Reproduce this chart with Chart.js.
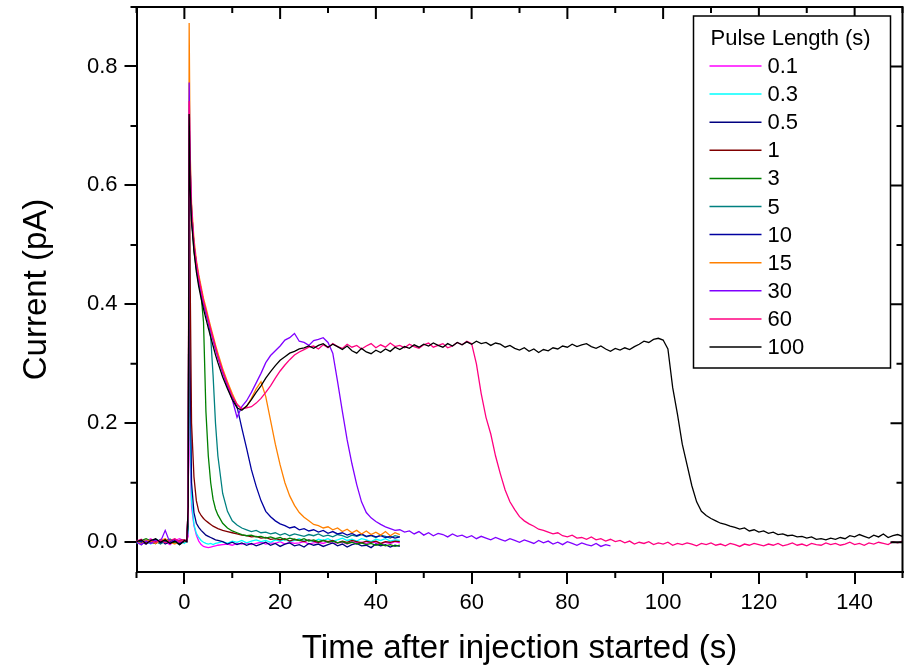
<!DOCTYPE html>
<html>
<head>
<meta charset="utf-8">
<script src="https://cdn.jsdelivr.net/npm/chart.js@4.4.1/dist/chart.umd.min.js"></script>
<style>
  html, body { margin: 0; padding: 0; background: #fff; }
</style>
</head>
<body>
<canvas id="chart" width="910" height="666"></canvas>
<script>
// sample times (s), shared by every trace; shorter traces just stop earlier
const time = [
  -10, -9, -8, -7, -6, -5, -4, -3, -2, -1, 0,
  0.5, 0.8, 1, 1.2, 1.5, 2, 2.5, 3, 3.5, 4, 4.5, 5, 5.5, 6, 6.5, 7,
  8, 9, 10, 11, 12, 13, 14, 15, 16, 17, 18, 19, 20, 21, 22, 23, 24, 25, 26, 27,
  28, 29, 30, 31, 32, 33, 34, 35, 36, 37, 38, 39, 40, 41, 42, 43, 44, 45,
  46, 47, 48, 49, 50, 51, 52, 53, 54, 55, 56, 57, 58, 59, 60, 61, 62, 63, 64, 65,
  66, 67, 68, 69, 70, 71, 72, 73, 74, 75, 76, 77, 78, 79, 80, 81, 82, 83, 84, 85,
  86, 87, 88, 89,
  90, 91, 92, 93, 94, 95, 96, 97, 98, 99, 100, 101, 102, 103, 104, 105, 106, 107, 108, 109, 110,
  111, 112, 113, 114, 115, 116, 117, 118, 119, 120, 121, 122, 123, 124, 125, 126, 127, 128, 129, 130,
  131, 132, 133, 134, 135, 136, 137, 138, 139, 140, 141, 142, 143, 144, 145, 146, 147, 148, 149, 150
];

const pulseLabels = ["0.1", "0.3", "0.5", "1", "3", "5", "10", "15", "30", "60", "100"];
const pulseColors = ["#FF00FF", "#00FFFF", "#000080", "#800000", "#008000", "#008080",
                     "#0000A0", "#FF8000", "#8000FF", "#FF0080", "#000000"];

// current (pA) for each pulse length
const p01 = [0.004, -0.003, 0.002, 0.006, -0.002, 0.005, 0.001, -0.004, 0.003, 0.006, 0.002,
  0.003, 0.01, 0.5, 0.14, 0.06, 0.028, 0.012, 0.002, -0.004, -0.007, -0.008, -0.009, -0.008, -0.007, -0.006, -0.005,
  -0.004, -0.003, -0.005, -0.002, -0.003, -0.001, -0.004, -0.002, 0.0, -0.003, -0.001, -0.002, 0.001, -0.003, 0.0,
  -0.002, -0.001, 0.001, -0.003, -0.001, 0.0, -0.002, 0.001, -0.002, -0.001, 0.0, -0.003, 0.001, -0.001, 0.0,
  -0.002, 0.001, -0.001, -0.003, 0.0, -0.002, 0.001, -0.001];
const p03 = [-0.002, 0.004, 0.001, -0.003, 0.005, 0.002, -0.001, 0.004, 0.0, 0.003, -0.002,
  0.002, 0.02, 0.56, 0.2, 0.07, 0.03, 0.015, 0.008, 0.003, 0.0, -0.002, -0.003, -0.002, -0.004, -0.002, -0.001,
  0.001, -0.002, 0.002, 0.0, 0.003, -0.001, 0.002, 0.004, 0.001, 0.003, 0.0, 0.004, 0.002, 0.005, 0.001,
  0.003, 0.006, 0.002, 0.004, 0.001, 0.005, 0.003, 0.006, 0.002, 0.004, 0.007, 0.003, 0.005, 0.002, 0.006,
  0.004, 0.001, 0.005, 0.003, 0.006, 0.002, 0.004, 0.003];
const p05 = [0.002, -0.004, 0.003, 0.0, -0.002, 0.004, -0.003, 0.001, 0.005, -0.001, 0.002,
  0.001, 0.03, 0.62, 0.3, 0.1, 0.05, 0.032, 0.025, 0.02, 0.016, 0.012, 0.01, 0.008, 0.006, 0.004, 0.003,
  0.001, -0.003, 0.0, -0.004, -0.001, -0.005, -0.002, -0.006, -0.003, 0.0, -0.005, -0.002, -0.007, -0.003, -0.001,
  -0.006, -0.004, -0.008, -0.002, -0.005, -0.003, -0.007, -0.004, -0.001, -0.006, -0.003, -0.008, -0.004, -0.002, -0.006,
  -0.005, -0.009, -0.003, -0.006, -0.004, -0.008, -0.005, -0.007];
const p1 = [0.003, 0.0, -0.003, 0.004, 0.001, -0.002, 0.005, 0.002, -0.001, 0.003, 0.004,
  0.002, 0.04, 0.71, 0.45, 0.2, 0.11, 0.07, 0.052, 0.045, 0.04, 0.036, 0.033, 0.03, 0.027, 0.025, 0.023,
  0.02, 0.018, 0.016, 0.014, 0.012, 0.011, 0.009, 0.01, 0.007, 0.008, 0.005, 0.006, 0.004, 0.006, 0.002,
  0.005, 0.003, 0.001, 0.004, 0.002, 0.0, 0.003, 0.001, 0.003, -0.001, 0.002, 0.0, 0.003, 0.001, -0.001,
  0.002, 0.0, 0.002, -0.002, 0.001, 0.0, 0.002, 0.001];
const p3 = [-0.001, 0.003, 0.006, 0.002, -0.002, 0.004, 0.001, 0.005, -0.001, 0.002, 0.003,
  0.002, 0.04, 0.68, 0.62, 0.55, 0.49, 0.46, 0.435, 0.415, 0.37, 0.22, 0.145, 0.1, 0.072, 0.056, 0.046,
  0.032, 0.024, 0.019, 0.016, 0.013, 0.011, 0.012, 0.009, 0.01, 0.007, 0.009, 0.006, 0.008, 0.004, 0.007,
  0.005, 0.003, 0.006, 0.002, 0.004, 0.001, 0.003, 0.0, 0.002, -0.001, 0.001, -0.002, 0.0, -0.003, -0.001,
  -0.004, -0.002, -0.005, -0.003, -0.006, -0.004, -0.007, -0.005];
const p5 = [0.001, -0.002, 0.004, 0.0, 0.003, -0.003, 0.002, 0.005, 0.001, -0.004, 0.002,
  0.001, 0.04, 0.7, 0.63, 0.56, 0.5, 0.465, 0.44, 0.42, 0.4, 0.385, 0.37, 0.345, 0.28, 0.2, 0.145,
  0.082, 0.052, 0.036, 0.029, 0.024, 0.021, 0.018, 0.02, 0.016, 0.017, 0.014, 0.016, 0.012, 0.015, 0.011,
  0.014, 0.012, 0.01, 0.013, 0.011, 0.014, 0.01, 0.012, 0.009, 0.013, 0.011, 0.008, 0.012, 0.01, 0.013,
  0.009, 0.011, 0.008, 0.012, 0.01, 0.007, 0.011, 0.009];
const p10 = [0.003, 0.001, -0.003, 0.002, 0.005, -0.001, 0.003, 0.0, 0.004, -0.002, 0.001,
  0.002, 0.05, 0.66, 0.6, 0.54, 0.5, 0.47, 0.445, 0.425, 0.405, 0.39, 0.373, 0.358, 0.343, 0.327, 0.313,
  0.288, 0.266, 0.246, 0.228, 0.192, 0.158, 0.122, 0.094, 0.07, 0.052, 0.043, 0.036, 0.031, 0.028, 0.024,
  0.026, 0.021, 0.023, 0.019, 0.021, 0.017, 0.02, 0.015, 0.018, 0.014, 0.016, 0.012, 0.015, 0.011, 0.014,
  0.01, 0.012, 0.009, 0.011, 0.008, 0.01, 0.007, 0.009];
const p15 = [0.002, -0.003, 0.004, 0.001, -0.002, 0.003, 0.006, 0.0, -0.003, 0.002, 0.001,
  0.002, 0.06, 0.873, 0.66, 0.57, 0.51, 0.475, 0.45, 0.43, 0.41, 0.395, 0.378, 0.362, 0.347, 0.332, 0.318,
  0.292, 0.27, 0.25, 0.232, 0.224, 0.228, 0.242, 0.258, 0.27, 0.245, 0.205, 0.165, 0.13, 0.1, 0.078,
  0.062, 0.05, 0.042, 0.036, 0.03, 0.028, 0.024, 0.026, 0.021, 0.024, 0.018, 0.022, 0.016, 0.02, 0.014,
  0.019, 0.013, 0.017, 0.012, 0.018, 0.011, 0.016, 0.013];
const p30 = [0.0, -0.004, 0.002, -0.002, 0.003, 0.001, 0.02, -0.001, 0.004, 0.0, 0.003,
  0.002, 0.06, 0.773, 0.64, 0.56, 0.5, 0.468, 0.44, 0.42, 0.4, 0.386, 0.37, 0.355, 0.34, 0.325, 0.31,
  0.285, 0.262, 0.24, 0.21, 0.228, 0.238, 0.252, 0.268, 0.284, 0.302, 0.314, 0.322, 0.33, 0.34, 0.344,
  0.351, 0.338, 0.336, 0.331, 0.339, 0.341, 0.344, 0.336, 0.318, 0.27, 0.22, 0.172, 0.132, 0.097, 0.068,
  0.05, 0.041, 0.035, 0.03, 0.026, 0.023, 0.02, 0.021,
  0.017, 0.019, 0.014, 0.018, 0.012, 0.016, 0.011, 0.015, 0.013, 0.009, 0.014, 0.01, 0.012, 0.008, 0.011,
  0.006, 0.01, 0.007, 0.004, 0.008, 0.005, 0.002, 0.006, 0.003, 0.0, 0.004, 0.001, -0.002, 0.003, -0.001,
  0.002, -0.003, 0.0, -0.004, 0.001, -0.002, -0.005, -0.001, -0.004, -0.006, -0.002, -0.007, -0.004, -0.006];
const p60 = [0.002, 0.005, -0.002, 0.003, 0.0, 0.004, -0.001, 0.003, 0.006, 0.001, 0.004,
  0.003, 0.06, 0.742, 0.63, 0.56, 0.5, 0.47, 0.445, 0.425, 0.405, 0.39, 0.374, 0.358, 0.343, 0.328, 0.313,
  0.288, 0.266, 0.246, 0.232, 0.224, 0.226, 0.228, 0.234, 0.242, 0.252, 0.263, 0.276, 0.288, 0.298, 0.307,
  0.315, 0.32, 0.324, 0.328, 0.33, 0.325, 0.332, 0.327, 0.334, 0.329, 0.326, 0.333, 0.328, 0.331, 0.325,
  0.33, 0.334, 0.327, 0.332, 0.328, 0.335, 0.329, 0.331,
  0.327, 0.333, 0.329, 0.326, 0.332, 0.335, 0.328, 0.331, 0.334, 0.327, 0.33, 0.336, 0.332, 0.338, 0.334,
  0.3, 0.25, 0.21, 0.182, 0.145, 0.115, 0.088, 0.068, 0.055, 0.043, 0.036, 0.031, 0.027, 0.022, 0.02,
  0.017, 0.014, 0.016, 0.011, 0.009, 0.012, 0.007, 0.008, 0.005, 0.009, 0.004, 0.006, 0.002, 0.005, 0.001,
  0.003, -0.001, 0.002, -0.003, 0.0, -0.002, 0.001, -0.004, -0.001, -0.003, 0.0, -0.005, -0.002, -0.004, -0.001,
  -0.003, -0.006, -0.002, -0.004, -0.001, -0.005, -0.003, -0.006, -0.002, -0.004, -0.007, -0.003, -0.005, -0.002, -0.004,
  -0.006, -0.003, -0.005, -0.002, -0.006, -0.004, -0.001, -0.005, -0.003, -0.006, -0.002, -0.004, -0.005, -0.001, -0.004,
  -0.002, -0.005, -0.003, 0.0, -0.004, -0.002, -0.005, -0.001, -0.003, 0.0, -0.002, -0.004, 0.001, -0.001, 0.002];
const p100 = [0.001, 0.004, -0.002, 0.003, 0.006, 0.0, 0.004, -0.002, 0.002, -0.004, 0.003,
  0.001, 0.06, 0.72, 0.6, 0.54, 0.49, 0.455, 0.43, 0.41, 0.392, 0.376, 0.36, 0.345, 0.33, 0.315, 0.302,
  0.278, 0.258, 0.24, 0.226, 0.222, 0.229, 0.24, 0.252, 0.263, 0.276, 0.287, 0.297, 0.306, 0.312, 0.318,
  0.321, 0.325, 0.327, 0.33, 0.326, 0.331, 0.334, 0.328, 0.333, 0.329, 0.324, 0.33, 0.322, 0.318, 0.326,
  0.32, 0.317, 0.323, 0.319, 0.325, 0.321, 0.328, 0.324,
  0.329, 0.326, 0.332, 0.328, 0.333, 0.33, 0.335, 0.331, 0.328, 0.334, 0.33, 0.336, 0.332, 0.337, 0.333,
  0.338, 0.334, 0.336, 0.331, 0.335, 0.333, 0.328, 0.331, 0.326, 0.323, 0.327, 0.321, 0.325, 0.319, 0.324,
  0.322, 0.327, 0.325, 0.33, 0.328, 0.333, 0.329, 0.332, 0.334, 0.329, 0.326, 0.33, 0.325, 0.321, 0.326,
  0.323, 0.327, 0.324, 0.329, 0.333, 0.338, 0.336, 0.341, 0.343, 0.34, 0.325, 0.26, 0.215, 0.165, 0.13,
  0.095, 0.068, 0.052, 0.045, 0.04, 0.036, 0.032, 0.03, 0.027, 0.025, 0.022, 0.024, 0.019, 0.021, 0.017,
  0.019, 0.015, 0.017, 0.013, 0.014, 0.011, 0.012, 0.009, 0.01, 0.007, 0.009, 0.005, 0.006, 0.004, 0.007,
  0.005, 0.008, 0.006, 0.011, 0.009, 0.013, 0.01, 0.007, 0.012, 0.009, 0.014, 0.008, 0.011, 0.013, 0.01];

const traces = [p01, p03, p05, p1, p3, p5, p10, p15, p30, p60, p100];

// axis ticks
const xMajor = [0, 20, 40, 60, 80, 100, 120, 140];
const xMinor = [-10, 10, 30, 50, 70, 90, 110, 130, 150];
const yMajor = [0, 0.2, 0.4, 0.6, 0.8];
const yMinor = [0.1, 0.3, 0.5, 0.7, 0.9];

const FONT = "'Liberation Sans', Arial, sans-serif";

// Origin-style frame: mirrored axes, inward ticks on top/right, minor ticks, boxed legend
const frameAndLegend = {
  id: "frameAndLegend",
  afterDraw(chart) {
    const { ctx, chartArea: a, scales: { x, y } } = chart;
    ctx.save();
    ctx.strokeStyle = "#000";
    ctx.lineWidth = 2;
    ctx.beginPath();
    ctx.moveTo(a.left - 1, a.top);
    ctx.lineTo(a.right, a.top);
    ctx.lineTo(a.right, a.bottom + 1);
    ctx.stroke();

    ctx.beginPath();
    xMajor.forEach(v => {
      const px = x.getPixelForValue(v);
      ctx.moveTo(px, a.top); ctx.lineTo(px, a.top + 12);
    });
    xMinor.forEach(v => {
      const px = x.getPixelForValue(v);
      ctx.moveTo(px, a.top); ctx.lineTo(px, a.top + 6);
      ctx.moveTo(px, a.bottom); ctx.lineTo(px, a.bottom + 6);
    });
    yMajor.forEach(v => {
      const py = y.getPixelForValue(v);
      ctx.moveTo(a.right, py); ctx.lineTo(a.right - 12, py);
    });
    yMinor.forEach(v => {
      const py = y.getPixelForValue(v);
      ctx.moveTo(a.right, py); ctx.lineTo(a.right - 6, py);
      ctx.moveTo(a.left, py); ctx.lineTo(a.left - 6, py);
    });
    ctx.stroke();

    // legend
    const bx = a.right - 209, by = a.top + 9, bw = 197, bh = 352;
    ctx.fillStyle = "#fff";
    ctx.fillRect(bx, by, bw, bh);
    ctx.lineWidth = 1.5;
    ctx.strokeRect(bx, by, bw, bh);
    ctx.fillStyle = "#000";
    ctx.font = "22px " + FONT;
    ctx.textBaseline = "middle";
    ctx.textAlign = "left";
    ctx.fillText("Pulse Length (s)", bx + 17, by + 23);
    chart.data.datasets.forEach((ds, i) => {
      const ly = by + 50 + 28.1 * i;
      ctx.strokeStyle = ds.borderColor;
      ctx.lineWidth = 1.5;
      ctx.beginPath();
      ctx.moveTo(bx + 16, ly);
      ctx.lineTo(bx + 68, ly);
      ctx.stroke();
      ctx.fillText(ds.label, bx + 74, ly + 1);
    });
    ctx.restore();
  }
};

const datasets = traces.map((vals, i) => ({
  label: pulseLabels[i],
  data: vals.map((v, k) => ({ x: time[k], y: v })),
  borderColor: pulseColors[i],
  borderWidth: 1.3,
  pointRadius: 0,
  showLine: true,
  fill: false,
  tension: 0,
  order: traces.length - i
}));

new Chart(document.getElementById("chart"), {
  type: "scatter",
  data: { datasets },
  options: {
    responsive: false,
    animation: false,
    devicePixelRatio: 1,
    layout: { padding: { top: 7, right: 7.5, left: 0, bottom: 0 } },
    plugins: { legend: { display: false }, tooltip: { enabled: false } },
    scales: {
      x: {
        type: "linear",
        min: -10,
        max: 150,
        afterFit: s => { s.height = 94; s.paddingLeft = 0; s.paddingRight = 0; },
        afterBuildTicks: s => { s.ticks = xMajor.map(v => ({ value: v })); },
        ticks: { color: "#000", font: { family: FONT, size: 22 }, padding: 6, maxRotation: 0 },
        grid: { display: true, drawOnChartArea: false, drawTicks: true, tickLength: 12, color: "#000", lineWidth: 2 },
        border: { display: true, color: "#000", width: 2 },
        title: { display: true, text: "Time after injection started (s)", color: "#000",
                 font: { family: FONT, size: 33 }, padding: { top: 0, bottom: -3 } }
      },
      y: {
        type: "linear",
        min: -0.05,
        max: 0.9,
        afterFit: s => { s.width = 136.5; s.paddingTop = 0; s.paddingBottom = 0; },
        afterBuildTicks: s => { s.ticks = yMajor.map(v => ({ value: v })); },
        ticks: { color: "#000", font: { family: FONT, size: 22 }, padding: 7,
                 callback: v => Number(v).toFixed(1) },
        grid: { display: true, drawOnChartArea: false, drawTicks: true, tickLength: 12, color: "#000", lineWidth: 2 },
        border: { display: true, color: "#000", width: 2 },
        title: { display: true, text: "Current (pA)", color: "#000",
                 font: { family: FONT, size: 33 }, padding: { top: 17, bottom: 0 } }
      }
    }
  },
  plugins: [frameAndLegend]
});
</script>
</body>
</html>
